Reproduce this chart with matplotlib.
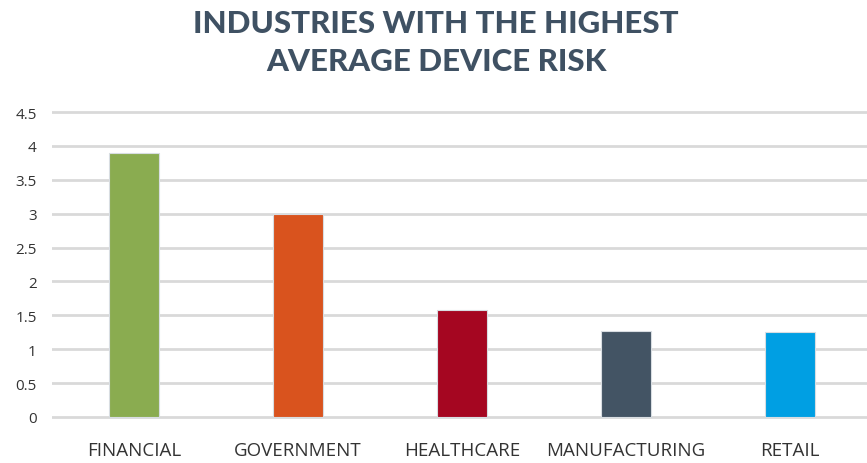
import matplotlib
matplotlib.use('Agg')
import matplotlib.pyplot as plt

# Datos
industries = ['FINANCIAL', 'GOVERNMENT', 'HEALTHCARE', 'MANUFACTURING', 'RETAIL']
avg_risk = [3.89, 3.0, 1.58, 1.27, 1.26]
bar_colors = ['#8aac50', '#d9531e', '#a50621', '#435464', '#009fe3']
y_ticks = [0, 0.5, 1, 1.5, 2, 2.5, 3, 3.5, 4, 4.5]
y_tick_labels = ['0', '0.5', '1', '1.5', '2', '2.5', '3', '3.5', '4', '4.5']


def main():
    fig = plt.figure(figsize=(8.67, 4.64), dpi=100)
    ax = fig.add_axes([52 / 867, 44 / 464, 820 / 867, 309 / 464])

    x = range(len(industries))
    ax.bar(x, avg_risk, width=0.31, color=bar_colors, edgecolor='#d8dde2',
           linewidth=0.8, zorder=3)

    ax.set_xlim(-0.5, len(industries) - 0.5)
    ax.set_ylim(-0.03, 4.53)
    ax.set_yticks(y_ticks)
    ax.set_yticklabels(y_tick_labels)
    ax.set_xticks(list(x))
    ax.set_xticklabels(industries)

    ax.yaxis.grid(True, color='#d9d9d9', linewidth=2, zorder=0)
    ax.xaxis.grid(False)
    for side in ['top', 'right', 'left', 'bottom']:
        ax.spines[side].set_visible(False)

    ax.tick_params(axis='y', length=0, pad=11, labelsize=11, labelcolor='#333333')
    ax.tick_params(axis='x', length=0, pad=16, labelsize=13.5, labelcolor='#333333')
    for lbl in ax.get_xticklabels() + ax.get_yticklabels():
        lbl.set_fontfamily('Open Sans')

    # Título en dos líneas
    fig.text(0.503, 0.948, 'INDUSTRIES WITH THE HIGHEST', ha='center', va='center',
             fontsize=22.5, fontweight='black', color='#3f5163', family='Lato')
    fig.text(0.503, 0.866, 'AVERAGE DEVICE RISK', ha='center', va='center',
             fontsize=22.5, fontweight='black', color='#3f5163', family='Lato')

    fig.savefig('out.png', dpi=100)


main()
